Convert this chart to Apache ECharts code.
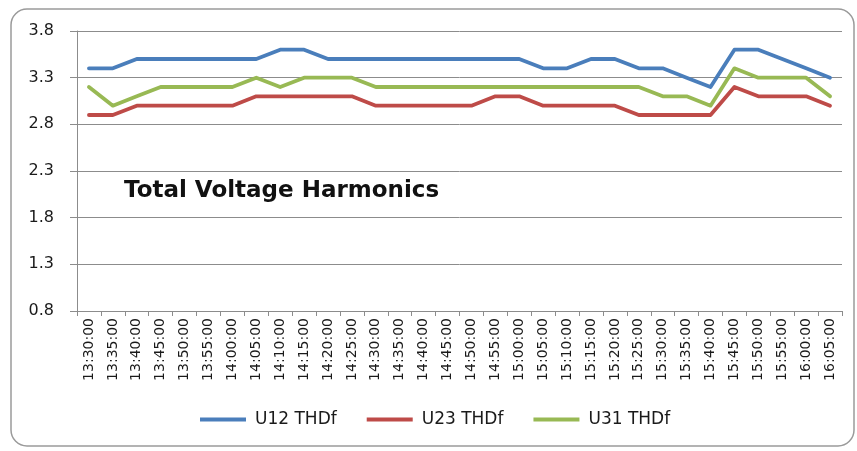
<!DOCTYPE html>
<html>
<head>
<meta charset="utf-8">
<script src="https://cdn.jsdelivr.net/npm/echarts@6/dist/echarts.min.js"></script>
<style>
  html, body { margin: 0; padding: 0; background: #ffffff; }
  #chart { width: 857px; height: 451px; }
</style>
</head>
<body>
<div id="chart"></div>
<script>
// Sample times (5-minute steps)
const times = [
  '13:30:00','13:35:00','13:40:00','13:45:00','13:50:00','13:55:00','14:00:00','14:05:00',
  '14:10:00','14:15:00','14:20:00','14:25:00','14:30:00','14:35:00','14:40:00','14:45:00',
  '14:50:00','14:55:00','15:00:00','15:05:00','15:10:00','15:15:00','15:20:00','15:25:00',
  '15:30:00','15:35:00','15:40:00','15:45:00','15:50:00','15:55:00','16:00:00','16:05:00'
];

// THDf per phase pair (%)
const u12 = [3.4,3.4,3.5,3.5,3.5,3.5,3.5,3.5,3.6,3.6,3.5,3.5,3.5,3.5,3.5,3.5,
             3.5,3.5,3.5,3.4,3.4,3.5,3.5,3.4,3.4,3.3,3.2,3.6,3.6,3.5,3.4,3.3];
const u23 = [2.9,2.9,3.0,3.0,3.0,3.0,3.0,3.1,3.1,3.1,3.1,3.1,3.0,3.0,3.0,3.0,
             3.0,3.1,3.1,3.0,3.0,3.0,3.0,2.9,2.9,2.9,2.9,3.2,3.1,3.1,3.1,3.0];
const u31 = [3.2,3.0,3.1,3.2,3.2,3.2,3.2,3.3,3.2,3.3,3.3,3.3,3.2,3.2,3.2,3.2,
             3.2,3.2,3.2,3.2,3.2,3.2,3.2,3.2,3.1,3.1,3.0,3.4,3.3,3.3,3.3,3.1];

const seriesNames = ['U12 THDf', 'U23 THDf', 'U31 THDf'];
const yTicks = [0.8, 1.3, 1.8, 2.3, 2.8, 3.3, 3.8];
const chartTitle = 'Total Voltage Harmonics';

const colors = ['#4a7ebb', '#be4b48', '#98b954'];
const gridColor = '#8c8c8c';
const font = 'DejaVu Sans';

const chart = echarts.init(document.getElementById('chart'), null, { renderer: 'canvas' });

const makeLine = (name, data, color) => ({
  name,
  type: 'line',
  data,
  symbol: 'none',
  smooth: false,
  lineStyle: { color, width: 3.8, cap: 'round', join: 'round' },
  itemStyle: { color },
  emphasis: { disabled: true }
});

chart.setOption({
  animation: false,
  color: colors,
  title: {
    text: chartTitle,
    left: 124,
    top: 180,
    padding: 0,
    textStyle: { fontFamily: font, fontWeight: 'bold', fontSize: 23, color: '#111111' }
  },
  graphic: [{
    type: 'rect',
    shape: { x: 11, y: 9, width: 843, height: 437, r: 16 },
    style: { fill: 'none', stroke: '#9a9a9a', lineWidth: 1.5 },
    silent: true,
    z: -1
  }],
  legend: {
    data: seriesNames,
    left: 195,
    top: 406,
    icon: 'rect',
    itemWidth: 46,
    itemHeight: 4,
    itemGap: 30,
    textStyle: { fontFamily: font, fontSize: 17, color: '#1a1a1a', padding: [0, 0, 0, 4] }
  },
  grid: { left: 77, right: 15, top: 31, bottom: 140, containLabel: false },
  xAxis: {
    type: 'category',
    data: times,
    boundaryGap: true,
    axisLine: { show: true, lineStyle: { color: gridColor, width: 1 } },
    axisTick: { show: true, length: 5, inside: false, alignWithLabel: false, interval: 0, lineStyle: { color: gridColor } },
    axisLabel: { interval: 0, rotate: 90, margin: 7, fontFamily: font, fontSize: 14, color: '#1a1a1a' },
    splitLine: { show: false }
  },
  yAxis: {
    type: 'value',
    min: 0.8,
    max: 3.8,
    axisLine: { show: true, lineStyle: { color: gridColor, width: 1 } },
    axisTick: { show: true, length: 7, customValues: yTicks, lineStyle: { color: gridColor } },
    axisLabel: {
      customValues: yTicks,
      margin: 23,
      fontFamily: font,
      fontSize: 16,
      color: '#1a1a1a',
      formatter: v => v.toFixed(1)
    },
    splitLine: { show: true, lineStyle: { color: gridColor, width: 1 } }
  },
  series: [
    makeLine(seriesNames[0], u12, colors[0]),
    makeLine(seriesNames[1], u23, colors[1]),
    makeLine(seriesNames[2], u31, colors[2])
  ]
});
</script>
</body>
</html>
